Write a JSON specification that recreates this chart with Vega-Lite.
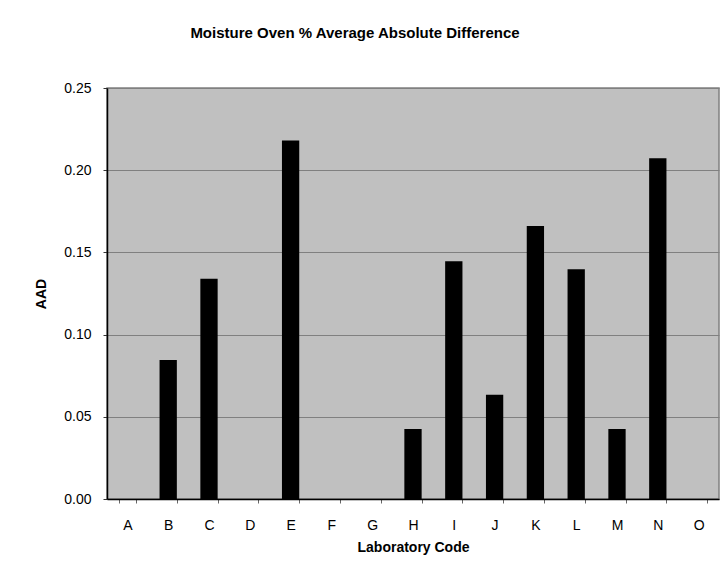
{
  "$schema": "https://vega.github.io/schema/vega-lite/v6.json",
  "width": 612,
  "height": 411,
  "padding": {"left": 34, "top": 26, "right": 7, "bottom": 20},
  "background": "white",
  "title": {
    "text": "Moisture Oven % Average Absolute Difference",
    "font": "Liberation Sans",
    "fontSize": 15,
    "fontWeight": "bold",
    "color": "black",
    "anchor": "middle",
    "dx": -58,
    "offset": 40
  },
  "data": {
    "values": [
      {"lab": "A", "aad": 0},
      {"lab": "B", "aad": 0.0845},
      {"lab": "C", "aad": 0.134},
      {"lab": "D", "aad": 0},
      {"lab": "E", "aad": 0.218},
      {"lab": "F", "aad": 0},
      {"lab": "G", "aad": 0},
      {"lab": "H", "aad": 0.0426},
      {"lab": "I", "aad": 0.1446},
      {"lab": "J", "aad": 0.0634},
      {"lab": "K", "aad": 0.166},
      {"lab": "L", "aad": 0.1397},
      {"lab": "M", "aad": 0.0426},
      {"lab": "N", "aad": 0.2072},
      {"lab": "O", "aad": 0}
    ]
  },
  "mark": {"type": "bar", "color": "black"},
  "encoding": {
    "x": {
      "field": "lab",
      "type": "nominal",
      "sort": null,
      "scale": {"paddingInner": 0.576, "paddingOuter": 0.288},
      "axis": {
        "title": "Laboratory Code",
        "labelAngle": 0,
        "tickBand": "extent",
        "tickSize": 4,
        "tickColor": "#666666",
        "domainColor": "black",
        "domainWidth": 1.5,
        "labelPadding": 15,
        "titlePadding": 8,
        "grid": false
      }
    },
    "y": {
      "field": "aad",
      "type": "quantitative",
      "scale": {"domain": [0, 0.25], "nice": false},
      "axis": {
        "title": "AAD",
        "values": [0, 0.05, 0.1, 0.15, 0.2, 0.25],
        "format": ".2f",
        "tickSize": 4,
        "tickColor": "#333333",
        "domainColor": "black",
        "domainWidth": 1.5,
        "labelPadding": 12,
        "titlePadding": 15,
        "grid": true,
        "gridColor": "#808080",
        "gridWidth": 1
      }
    }
  },
  "config": {
    "view": {"fill": "#C0C0C0", "stroke": "#808080", "strokeWidth": 1.5},
    "axis": {
      "labelFont": "Liberation Sans",
      "labelFontSize": 14,
      "labelColor": "black",
      "titleFont": "Liberation Sans",
      "titleFontSize": 14,
      "titleFontWeight": "bold",
      "titleColor": "black"
    }
  }
}
